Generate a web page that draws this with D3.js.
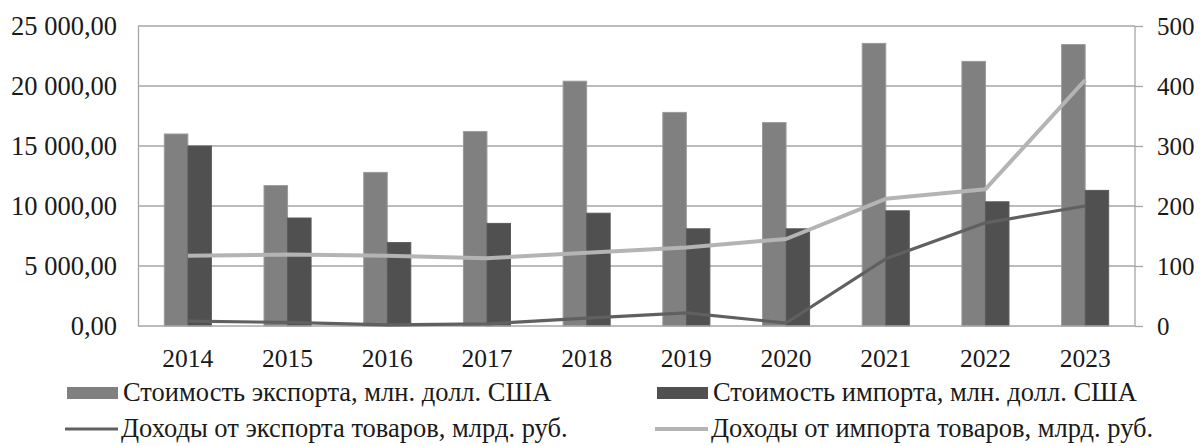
<!DOCTYPE html>
<html>
<head>
<meta charset="utf-8">
<script src="https://cdn.jsdelivr.net/npm/d3@7"></script>
<style>
  html, body { margin: 0; padding: 0; background: #fff; }
  svg { display: block; }
</style>
</head>
<body>
<svg id="chart" width="1201" height="446"></svg>
<script>
const years = ["2014","2015","2016","2017","2018","2019","2020","2021","2022","2023"];
const exportValue = [16000, 11700, 12800, 16200, 20400, 17800, 16950, 23550, 22050, 23450];
const importValue = [15000, 9000, 6950, 8550, 9400, 8100, 8100, 9600, 10350, 11300];
const exportIncome = [8, 6, 2, 3.5, 13, 22, 5, 112, 172, 200];
const importIncome = [117, 119, 117, 113, 122, 131, 145, 212, 228, 410];
const leftTicks = [0, 5000, 10000, 15000, 20000, 25000];
const rightTicks = [0, 100, 200, 300, 400, 500];
const seriesNames = [
  "Стоимость экспорта, млн. долл. США",
  "Стоимость импорта, млн. долл. США",
  "Доходы от экспорта товаров, млрд. руб.",
  "Доходы от импорта товаров, млрд. руб."
];

const colors = { exp: "#808080", imp: "#505050", expLine: "#606060", impLine: "#b4b4b4", grid: "#a6a6a6", text: "#1a1a1a" };
const plot = { left: 138, right: 1135, top: 26, bottom: 326 };
const FONT = "Liberation Serif";

const svg = d3.select("#chart");
const x = d3.scaleBand().domain(years).range([plot.left, plot.right]).padding(0);
const yL = d3.scaleLinear().domain([0, 25000]).range([plot.bottom, plot.top]);
const yR = d3.scaleLinear().domain([0, 500]).range([plot.bottom, plot.top]);

const ru = d3.formatLocale({ decimal: ",", thousands: "\u00a0", grouping: [3], currency: ["", ""] });
const fmtL = ru.format(",.2f");

// gridlines
svg.append("g").selectAll("line").data(leftTicks.slice(1)).join("line")
  .attr("x1", plot.left).attr("x2", plot.right)
  .attr("y1", d => yL(d)).attr("y2", d => yL(d))
  .attr("stroke", colors.grid).attr("stroke-width", 1.3);

// left axis
const gL = svg.append("g").attr("transform", `translate(${plot.left},0)`)
  .call(d3.axisLeft(yL).tickValues(leftTicks).tickFormat(fmtL).tickSize(0).tickPadding(21));
gL.attr("font-family", FONT);
gL.select(".domain").attr("stroke", colors.grid).attr("stroke-width", 1.3);
gL.selectAll("text").attr("font-size", 26.5).attr("fill", colors.text);

// right axis
const gR = svg.append("g").attr("transform", `translate(${plot.right},0)`)
  .call(d3.axisRight(yR).tickValues(rightTicks).tickSize(8).tickPadding(14));
gR.attr("font-family", FONT);
gR.select(".domain").attr("d", `M0,${plot.top}V${plot.bottom}`).attr("stroke", colors.grid).attr("stroke-width", 1.3);
gR.selectAll("line").attr("stroke", colors.grid).attr("stroke-width", 1.3);
gR.selectAll("text").attr("font-size", 25).attr("fill", colors.text);

// bars
const bw = x.bandwidth() * 0.236;
const cx = d => x(d) + x.bandwidth() / 2;
svg.append("g").selectAll("rect").data(years).join("rect")
  .attr("x", d => cx(d) - bw).attr("width", bw)
  .attr("y", (d, i) => yL(exportValue[i])).attr("height", (d, i) => plot.bottom - yL(exportValue[i]))
  .attr("fill", colors.exp).attr("stroke", "#9a9a9a").attr("stroke-width", 1);
svg.append("g").selectAll("rect").data(years).join("rect")
  .attr("x", d => cx(d)).attr("width", bw)
  .attr("y", (d, i) => yL(importValue[i])).attr("height", (d, i) => plot.bottom - yL(importValue[i]))
  .attr("fill", colors.imp).attr("stroke", "#5a5a5a").attr("stroke-width", 1);

// bottom axis
const gB = svg.append("g").attr("transform", `translate(0,${plot.bottom})`)
  .call(d3.axisBottom(x).tickSize(0).tickPadding(0));
gB.attr("font-family", FONT);
gB.select(".domain").attr("d", `M${plot.left},0H${plot.right}`).attr("stroke", colors.grid).attr("stroke-width", 1.3);
gB.selectAll("text").attr("font-size", 25.5).attr("fill", colors.text).attr("y", 41).attr("dy", 0);

// lines
const line = vals => d3.line().x((d, i) => cx(years[i])).y(d => yR(d)).curve(d3.curveLinear)(vals);
svg.append("path").attr("d", line(exportIncome)).attr("fill", "none")
  .attr("stroke", colors.expLine).attr("stroke-width", 3.2).attr("stroke-linejoin", "round");
svg.append("path").attr("d", line(importIncome)).attr("fill", "none")
  .attr("stroke", colors.impLine).attr("stroke-width", 4).attr("stroke-linejoin", "round");

// legend
const leg = svg.append("g").attr("font-family", FONT);
const items = [
  { name: seriesNames[0], type: "rect", color: colors.exp, x: 67, y: 393 },
  { name: seriesNames[1], type: "rect", color: colors.imp, x: 657, y: 393 },
  { name: seriesNames[2], type: "line", color: colors.expLine, x: 65, y: 429 },
  { name: seriesNames[3], type: "line", color: colors.impLine, x: 655, y: 429 }
];
items.forEach(it => {
  if (it.type === "rect") {
    leg.append("rect").attr("x", it.x).attr("y", it.y - 6).attr("width", 51).attr("height", 12).attr("fill", it.color);
  } else {
    leg.append("line").attr("x1", it.x).attr("x2", it.x + 53).attr("y1", it.y).attr("y2", it.y)
      .attr("stroke", it.color).attr("stroke-width", it.color === colors.impLine ? 4 : 3.2);
  }
  leg.append("text").attr("x", it.x + 56).attr("y", it.y + 8).attr("font-size", 26.5).attr("fill", colors.text).text(it.name);
});
</script>
</body>
</html>
